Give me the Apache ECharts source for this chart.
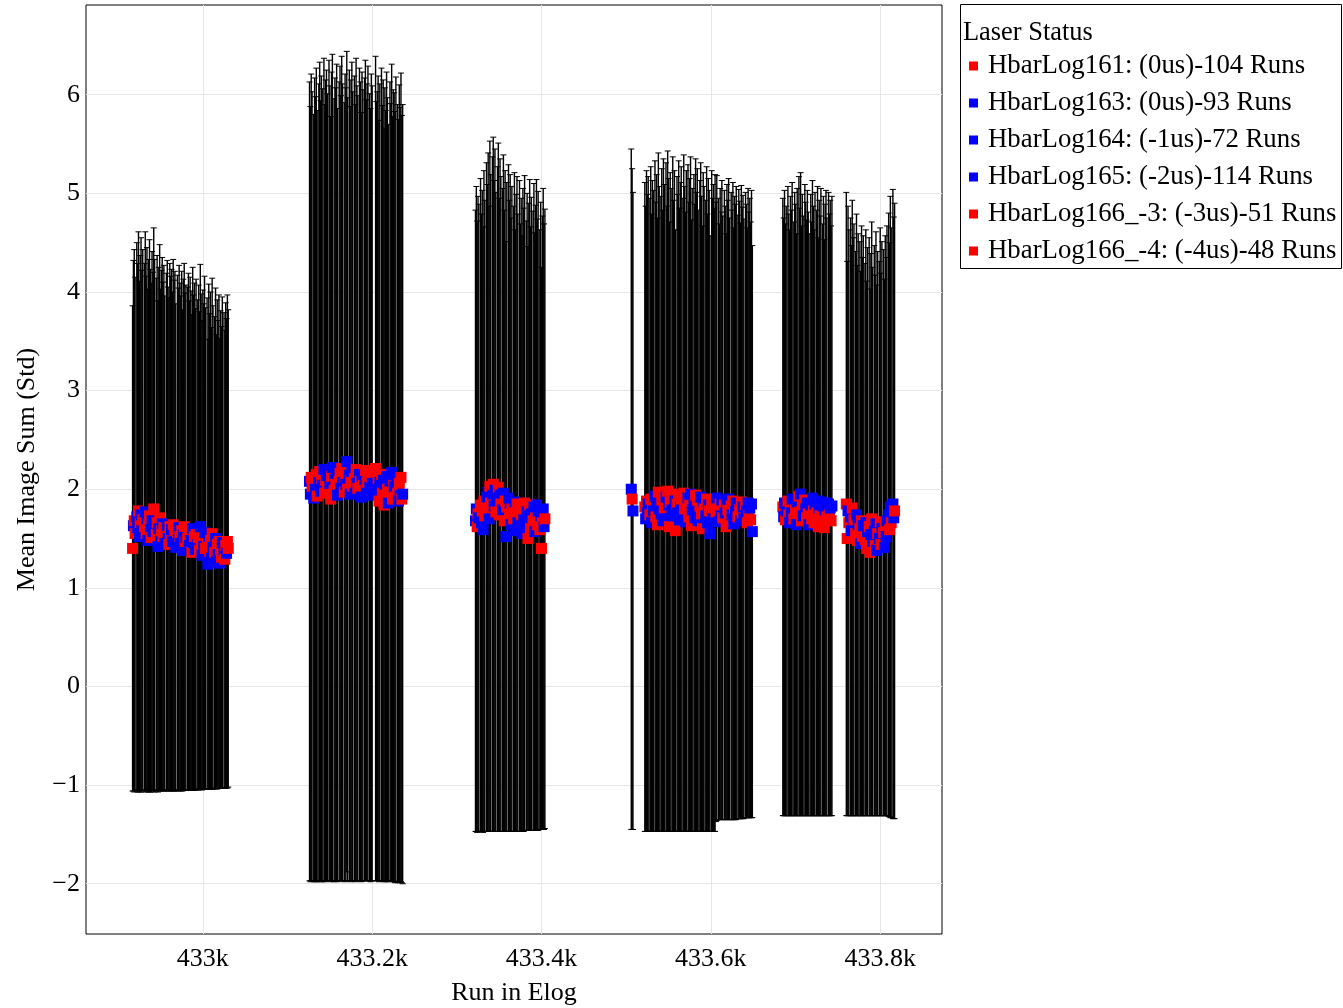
<!DOCTYPE html>
<html>
<head>
<meta charset="utf-8">
<script src="https://cdn.jsdelivr.net/npm/echarts@6/dist/echarts.min.js"></script>
<style>
  html, body { margin: 0; padding: 0; background: #fff; }
  #chart { width: 1343px; height: 1008px; }
</style>
</head>
<body>
<div id="chart"></div>
<script>
// Axis ticks
const xTicks = [433000, 433200, 433400, 433600, 433800];
const yTicks = [-2, -1, 0, 1, 2, 3, 4, 5, 6];

// Legend entries, one per logbook
const seriesNames = [
  'HbarLog161: (0us)-104 Runs',
  'HbarLog163: (0us)-93 Runs',
  'HbarLog164: (-1us)-72 Runs',
  'HbarLog165: (-2us)-114 Runs',
  'HbarLog166_-3: (-3us)-51 Runs',
  'HbarLog166_-4: (-4us)-48 Runs'
];

// HbarLog161
const runs161 = [
  432917,432918,432919,432920,
  432922,432923,432924,432925,432926,432927,432928,432929,
  432931,432932,432933,432934,432935,432936,432937,432938,432939,432940,432941,432942,432943,
  432945,432946,432947,432948,432949,432950,432951,432952,432953,432954,432955,
  432957,432958,432959,432960,432961,432962,432963,432964,432965,432966,432967,432968,
  432970,432971,432972,432973,432974,432975,432976,432977,432978,432979,432980,
  432982,432983,432984,432985,432986,432987,432988,432989,432990,432991,432992,
  432994,432995,432996,432997,432998,432999,433000,433001,433002,433003,
  433005,433006,433007,433008,433009,433010,433011,433012,
  433014,433015,433016,433017,433018,433019,433020,433021,433022,433023,
  433025,433026,433027,433028,433029,433030
];
const mean161 = [
  1.40,1.63,1.68,1.55,
  1.72,1.61,1.78,1.52,1.66,1.74,1.58,1.69,
  1.62,1.77,1.55,1.70,1.48,1.64,1.73,1.59,1.51,1.68,1.57,1.80,1.63,
  1.54,1.66,1.42,1.60,1.71,1.49,1.58,1.65,1.52,1.61,1.45,
  1.57,1.63,1.50,1.44,1.62,1.55,1.59,1.47,1.64,1.53,1.58,1.41,
  1.56,1.49,1.61,1.52,1.45,1.58,1.38,1.54,1.62,1.47,1.51,
  1.50,1.57,1.43,1.55,1.48,1.36,1.60,1.46,1.52,1.39,1.54,
  1.44,1.51,1.38,1.62,1.47,1.33,1.49,1.42,1.56,1.40,
  1.45,1.24,1.52,1.37,1.48,1.30,1.55,1.41,
  1.36,1.50,1.27,1.44,1.34,1.47,1.25,1.39,1.31,1.46,
  1.38,1.29,1.43,1.35,1.47,1.40
];
const std161 = [
  2.46,2.69,2.75,2.60,
  2.78,2.68,2.83,2.59,2.71,2.81,2.64,2.74,
  2.67,2.84,2.61,2.75,2.55,2.69,2.80,2.64,2.58,2.73,2.63,2.85,2.70,
  2.60,2.71,2.49,2.65,2.77,2.54,2.64,2.70,2.58,2.66,2.51,
  2.62,2.69,2.55,2.50,2.67,2.61,2.64,2.53,2.69,2.59,2.63,2.47,
  2.61,2.55,2.66,2.57,2.51,2.63,2.44,2.59,2.67,2.52,2.56,
  2.55,2.62,2.48,2.60,2.53,2.41,2.65,2.51,2.57,2.44,2.59,
  2.48,2.56,2.42,2.66,2.51,2.38,2.53,2.46,2.60,2.44,
  2.49,2.28,2.56,2.41,2.52,2.34,2.59,2.45,
  2.39,2.54,2.30,2.48,2.37,2.50,2.28,2.42,2.34,2.49,
  2.41,2.32,2.46,2.38,2.50,2.42
];
const laser161 = 'rbrrbbrbrb' + 'brrbrbbrrb' + 'rbbrbrrbbr' + 'brbrrbrbbr' + 'rrbbrbrbrb' +
                 'brbrbbrrbr' + 'rbrbrbbrbr' + 'brrbrbrbbr' + 'rbbrrbrbrb' + 'brbrbrrbbr' + 'rbrr';

// HbarLog163
const runs163 = [
  433126,433127,433128,433129,
  433131,433132,433133,433134,433135,
  433137,433138,433139,433140,433141,
  433143,433144,433145,433146,433147,
  433149,433150,433151,433152,433153,
  433155,433156,433157,433158,433159,
  433161,433162,433163,433164,433165,
  433167,433168,433169,433170,433171,
  433173,433174,433175,433176,433177,
  433179,433180,433181,433182,433183,
  433185,433186,433187,433188,433189,
  433191,433192,433193,433194,433195,
  433197,433198,433199,433200,
  433204,433205,433206,433207,433208,433209,
  433211,433212,433213,433214,433215,433216,433217,433218,433219,
  433221,433222,433223,433224,433225,433226,433227,433228,
  433230,433231,433232,433233,433234,433235,433236
];
const mean163 = [
  2.08,1.95,2.12,2.03,1.91,2.10,
  2.00,2.15,1.93,2.07,2.18,1.98,
  2.11,2.04,2.20,1.96,2.09,2.14,
  2.02,2.19,2.06,1.90,2.13,2.22,
  1.99,2.10,2.05,2.17,1.94,2.08,
  2.16,2.01,2.21,2.07,1.97,2.12,
  2.05,2.28,2.00,2.14,1.95,2.09,
  2.18,2.03,2.11,1.96,2.20,2.06,
  2.01,2.15,2.08,1.92,2.13,2.04,
  2.10,2.19,1.99,2.07,2.16,2.02,1.94,2.12,2.06,2.21,1.98,
  2.03,2.11,1.88,2.07,2.15,1.96,2.09,1.84,
  2.05,1.93,2.13,2.00,1.86,2.08,1.97,2.17,1.90,2.04,
  2.02,1.92,2.10,1.96,1.88,2.06,1.94,2.12,1.90,1.95
];
const std163 = [
  4.05,3.93,4.09,4.00,3.89,4.07,
  3.98,4.12,3.91,4.04,4.15,3.96,
  4.08,4.02,4.17,3.94,4.06,4.11,
  3.99,4.16,4.03,3.88,4.10,4.19,
  3.97,4.07,4.02,4.14,3.92,4.05,
  4.13,3.98,4.18,4.04,3.95,4.09,
  4.02,4.16,3.97,4.11,3.93,4.06,
  4.15,4.00,4.08,3.94,4.17,4.03,
  3.98,4.12,4.05,3.90,4.10,4.01,
  4.07,4.16,3.96,4.04,4.13,3.99,3.92,4.09,4.03,4.18,3.95,
  4.00,4.08,3.86,4.04,4.12,3.93,4.06,3.82,
  4.02,3.91,4.10,3.97,3.84,4.05,3.94,4.14,3.88,4.01,
  4.00,3.91,4.08,3.94,3.87,4.04,3.93,4.10,3.89,3.95
];
const laser163 = 'bbrrbrbrrb' + 'rbrbbrrbrb' + 'brrbrbrbbr' + 'rbrbrrbbrb' + 'brbrrbrbrb' +
                 'rbbrbrbrrb' + 'brbrbbrrbr' + 'rbrbrbrbbr' + 'brrbrbrbrb' + 'rrb';

// HbarLog164
const runs164 = [
  433322,433323,433324,433325,433326,
  433328,433329,433330,433331,433332,433333,
  433335,433336,433337,433338,433339,433340,
  433342,433343,433344,433345,433346,
  433348,433349,433350,433351,433352,
  433354,433355,433356,433357,433358,433359,
  433361,433362,433363,433364,433365,
  433367,433368,433369,433370,433371,433372,
  433374,433375,433376,433377,433378,433379,433380,
  433382,433383,433384,433385,433386,433387,433388,
  433390,433391,433392,433393,433394,433395,433396,
  433398,433399,433400,433401,433402,433403,433404
];
const mean164 = [
  1.68,1.80,1.62,1.75,1.71,
  1.84,1.66,1.78,1.59,1.88,1.73,
  1.92,1.81,1.97,1.70,2.03,1.86,
  1.95,2.05,1.83,1.99,1.77,
  1.90,2.02,1.74,1.94,1.85,
  1.79,1.96,1.68,1.88,1.52,1.82,
  1.91,1.73,1.86,1.64,1.80,
  1.70,1.87,1.58,1.76,1.85,1.66,
  1.83,1.61,1.74,1.55,1.79,1.69,1.86,
  1.63,1.77,1.50,1.72,1.84,1.60,1.75,
  1.68,1.82,1.57,1.71,1.84,1.64,1.78,
  1.59,1.73,1.40,1.66,1.80,1.62,1.70
];
const std164 = [
  3.15,3.27,3.10,3.22,3.18,
  3.31,3.13,3.25,3.07,3.35,3.20,
  3.39,3.28,3.44,3.17,3.50,3.33,
  3.42,3.52,3.30,3.46,3.24,
  3.37,3.49,3.21,3.41,3.32,
  3.26,3.43,3.15,3.35,2.99,3.29,
  3.38,3.20,3.33,3.11,3.27,
  3.17,3.34,3.05,3.23,3.32,3.13,
  3.30,3.08,3.21,3.02,3.26,3.16,3.32,
  3.09,3.23,2.96,3.18,3.30,3.06,3.21,
  3.14,3.28,3.03,3.17,3.30,3.10,3.24,
  3.04,3.18,2.85,3.11,3.25,3.07,3.14
];
const laser164 = 'bbrrbrbrbr' + 'rbrbbrrbrb' + 'brbrrbrbbr' + 'rbrbrbbrrb' + 'brrbrbrbrb' +
                 'rbbrbrrbrb' + 'brbrbrbrrb' + 'br';

// HbarLog165
const runs165 = [
  433506,433507,433508,
  433522,433523,433524,433525,433526,
  433528,433529,433530,433531,433532,
  433534,433535,433536,433537,433538,433539,
  433541,433542,433543,433544,433545,
  433547,433548,433549,433550,433551,433552,
  433554,433555,433556,433557,433558,
  433560,433561,433562,433563,433564,433565,
  433567,433568,433569,433570,433571,
  433573,433574,433575,433576,433577,433578,
  433580,433581,433582,433583,433584,433585,
  433587,433588,433589,433590,433591,433592,
  433594,433595,433596,433597,433598,433599,
  433601,433602,433603,433604,433605,433606,433607,
  433609,433610,433611,433612,433613,433614,
  433616,433617,433618,433619,433620,433621,433622,
  433624,433625,433626,433627,433628,433629,433630,
  433632,433633,433634,433635,433636,433637,433638,433639,
  433641,433642,433643,433644,433645,433646,433647,433648,433649
];
const mean165 = [
  2.00,1.90,1.78,
  1.82,1.70,1.88,1.76,1.85,
  1.74,1.90,1.66,1.83,1.78,
  1.93,1.72,1.86,1.64,1.97,1.80,
  1.75,1.89,1.68,1.94,1.81,
  1.92,1.70,1.98,1.84,1.62,1.87,
  1.79,1.95,1.73,1.88,1.58,
  1.85,1.76,1.93,1.69,1.82,1.90,
  1.74,1.96,1.80,1.67,1.88,
  1.91,1.72,1.84,1.95,1.63,1.79,
  1.86,1.71,1.94,1.77,1.89,1.68,
  1.83,1.92,1.75,1.60,1.87,1.80,
  1.73,1.90,1.66,1.84,1.78,1.55,
  1.88,1.74,1.81,1.69,1.86,1.77,1.91,
  1.80,1.67,1.85,1.73,1.89,1.71,
  1.84,1.76,1.62,1.87,1.79,1.90,1.70,
  1.83,1.74,1.88,1.65,1.81,1.77,1.86,
  1.72,1.85,1.79,1.68,1.87,1.76,1.82,1.70,
  1.84,1.78,1.66,1.86,1.74,1.81,1.69,1.85,1.57
];
const std165 = [
  3.45,3.35,3.23,
  3.29,3.17,3.35,3.23,3.32,
  3.21,3.37,3.13,3.30,3.25,
  3.40,3.19,3.33,3.11,3.44,3.27,
  3.22,3.36,3.15,3.41,3.28,
  3.39,3.17,3.45,3.31,3.09,3.34,
  3.26,3.42,3.20,3.35,3.05,
  3.32,3.23,3.40,3.16,3.29,3.37,
  3.21,3.43,3.27,3.14,3.35,
  3.38,3.19,3.31,3.42,3.10,3.26,
  3.33,3.18,3.41,3.24,3.36,3.15,
  3.30,3.39,3.22,3.07,3.34,3.27,
  3.20,3.37,3.13,3.31,3.25,3.02,
  3.35,3.21,3.28,3.16,3.33,3.14,3.27,
  3.15,3.02,3.20,3.08,3.24,3.06,
  3.19,3.11,2.97,3.22,3.14,3.25,3.05,
  3.18,3.09,3.23,3.00,3.16,3.12,3.21,
  3.06,3.19,3.13,3.02,3.21,3.10,3.16,3.04,
  3.17,3.11,2.99,3.19,3.07,3.14,3.02,3.18,2.90
];
const laser165 = 'brb' + 'rbrbbrrbrb' + 'brbrrbbrbr' + 'rbbrbrrbrb' + 'brrbrbbrbr' + 'rbrbrrbrbb' +
                 'brbrbrbrrb' + 'rbrbbrbrbr' + 'brrbrbrbbr' + 'rbrbrbrrbr' + 'brbbrbrbrr' + 'bbrbrbrbrb' + 'b';

// HbarLog166_-3
const runs1663 = [
  433685,433686,433687,433688,433689,
  433691,433692,433693,433694,433695,433696,
  433698,433699,433700,433701,433702,
  433704,433705,433706,433707,433708,433709,
  433711,433712,433713,433714,433715,433716,
  433718,433719,433720,433721,433722,433723,
  433725,433726,433727,433728,433729,433730,
  433732,433733,433734,433735,433736,433737,
  433739,433740,433741,433742,433743
];
const mean1663 = [
  1.82,1.72,1.86,1.69,1.78,
  1.88,1.74,1.66,1.83,1.76,1.90,
  1.70,1.85,1.79,1.64,1.87,
  1.93,1.77,1.95,1.68,1.84,1.73,
  1.89,1.80,1.71,1.86,1.75,1.64,
  1.84,1.70,1.91,1.78,1.66,1.85,
  1.76,1.88,1.62,1.81,1.73,1.87,
  1.69,1.83,1.61,1.79,1.86,1.72,
  1.85,1.74,1.81,1.68,1.83
];
const std1663 = [
  3.13,3.03,3.17,3.00,3.09,
  3.19,3.05,2.97,3.14,3.07,3.21,
  3.01,3.16,3.10,2.95,3.18,
  3.24,3.08,3.26,2.99,3.15,3.04,
  3.20,3.11,3.02,3.17,3.06,2.95,
  3.15,3.01,3.22,3.09,2.97,3.16,
  3.07,3.19,2.93,3.12,3.04,3.18,
  3.00,3.14,2.92,3.10,3.17,3.03,
  3.16,3.05,3.12,2.99,3.14
];
const laser1663 = 'rbbrbrrbrb' + 'brbrbbrrbr' + 'rbrbrbrbbr' + 'brrbrbrbrb' + 'rbrbbrbrbr' + 'b';

// HbarLog166_-4
const runs1664 = [
  433760,433761,433762,433763,
  433765,433766,433767,433768,433769,
  433771,433772,433773,433774,
  433776,433777,433778,433779,433780,
  433782,433783,433784,433785,
  433787,433788,433789,433790,433791,
  433793,433794,433795,433796,433797,
  433799,433800,433801,433802,
  433804,433805,433806,433807,433808,
  433810,433811,433812,433813,
  433815,433816,433817
];
const mean1664 = [
  1.85,1.50,1.78,1.66,
  1.72,1.58,1.81,1.62,1.69,
  1.55,1.74,1.48,1.64,
  1.60,1.45,1.68,1.52,1.63,
  1.49,1.66,1.40,1.57,
  1.62,1.36,1.54,1.70,1.47,
  1.58,1.43,1.65,1.38,1.55,
  1.50,1.67,1.44,1.60,
  1.56,1.41,1.63,1.52,1.68,
  1.74,1.59,1.82,1.66,
  1.85,1.71,1.78
];
const std1664 = [
  3.16,2.81,3.09,2.97,
  3.03,2.89,3.12,2.93,3.00,
  2.86,3.05,2.79,2.95,
  2.91,2.76,2.99,2.83,2.94,
  2.80,2.97,2.71,2.88,
  2.93,2.67,2.85,3.01,2.78,
  2.89,2.74,2.96,2.69,2.86,
  2.81,2.98,2.75,2.91,
  2.87,2.72,2.94,2.83,2.99,
  3.06,2.91,3.15,2.99,
  3.19,3.05,3.12
];
const laser1664 = 'rrbrbbrbrr' + 'brbrbrrbrb' + 'rbrrbrbbrb' + 'brbrrbrbrb' + 'bbrbrbbr';

const RED = '#ff0000';
const BLUE = '#0000ff';
const FONT = "'Liberation Serif', 'Times New Roman', serif";

const logs = [
  { runs: runs161,  mean: mean161,  std: std161,  laser: laser161 },
  { runs: runs163,  mean: mean163,  std: std163,  laser: laser163 },
  { runs: runs164,  mean: mean164,  std: std164,  laser: laser164 },
  { runs: runs165,  mean: mean165,  std: std165,  laser: laser165 },
  { runs: runs1663, mean: mean1663, std: std1663, laser: laser1663 },
  { runs: runs1664, mean: mean1664, std: std1664, laser: laser1664 }
];

const colorOf = c => (c === 'r' ? RED : BLUE);

// Vertical bar from mean-std to mean+std with short caps at both ends
function renderErrorBar(params, api) {
  const x = api.value(0), m = api.value(1), s = api.value(2);
  const hi = api.coord([x, m + s]);
  const lo = api.coord([x, m - s]);
  const hw = 3;
  const style = { stroke: '#000', lineWidth: 1.4, fill: null };
  const cap = { stroke: '#000', lineWidth: 1, fill: null };
  return {
    type: 'group',
    children: [
      { type: 'line', shape: { x1: hi[0], y1: hi[1], x2: lo[0], y2: lo[1] }, style },
      { type: 'line', shape: { x1: hi[0] - hw, y1: hi[1], x2: hi[0] + hw, y2: hi[1] }, style: cap },
      { type: 'line', shape: { x1: lo[0] - hw, y1: lo[1], x2: lo[0] + hw, y2: lo[1] }, style: cap }
    ]
  };
}

const series = [];
logs.forEach((g, k) => {
  series.push({
    type: 'custom',
    name: seriesNames[k] + ' (std)',
    renderItem: renderErrorBar,
    data: g.runs.map((r, i) => [r, g.mean[i], g.std[i]]),
    encode: { x: 0, y: 1 },
    silent: true,
    clip: true,
    z: 2
  });
});
logs.forEach((g, k) => {
  series.push({
    type: 'scatter',
    name: seriesNames[k],
    symbol: 'rect',
    symbolSize: 11,
    itemStyle: { color: colorOf(g.laser[0]), opacity: 1 },
    data: g.runs.map((r, i) => ({
      value: [r, g.mean[i]],
      itemStyle: { color: colorOf(g.laser[i] || g.laser[0]) }
    })),
    z: 3
  });
});

const chart = echarts.init(document.getElementById('chart'));
chart.setOption({
  animation: false,
  backgroundColor: '#fff',
  textStyle: { fontFamily: FONT },
  grid: {
    left: 86, right: 401, top: 5, bottom: 74,
    outerBoundsMode: 'none',
    show: true, borderColor: '#000', borderWidth: 1, backgroundColor: '#fff'
  },
  xAxis: {
    type: 'value',
    min: 432862, max: 433873,
    name: 'Run in Elog',
    nameLocation: 'middle',
    nameGap: 46,
    nameTextStyle: { fontFamily: FONT, fontSize: 26, color: '#000' },
    axisLine: { show: false },
    axisTick: { show: false, customValues: xTicks },
    axisLabel: {
      customValues: xTicks,
      formatter: v => (v / 1000) + 'k',
      fontFamily: FONT, fontSize: 26, color: '#000', margin: 12
    },
    splitLine: { show: true, lineStyle: { color: '#e6e6e6', width: 1 } }
  },
  yAxis: {
    type: 'value',
    min: -2.51, max: 6.91,
    name: 'Mean Image Sum (Std)',
    nameLocation: 'middle',
    nameGap: 46,
    nameTextStyle: { fontFamily: FONT, fontSize: 26, color: '#000' },
    axisLine: { show: false },
    axisTick: { show: false, customValues: yTicks },
    axisLabel: {
      customValues: yTicks,
      formatter: v => String(v).replace('-', '\u2212'),
      fontFamily: FONT, fontSize: 26, color: '#000', margin: 6
    },
    splitLine: { show: true, lineStyle: { color: '#e6e6e6', width: 1 } }
  },
  legend: {
    data: seriesNames,
    orient: 'vertical',
    left: 969, top: 51,
    padding: 0,
    itemWidth: 9, itemHeight: 9,
    itemGap: 7,
    icon: 'rect',
    selectedMode: false,
    textStyle: { fontFamily: FONT, fontSize: 26.8, color: '#000', lineHeight: 30, padding: [0, 0, 0, 5] }
  },
  graphic: [
    {
      type: 'rect',
      shape: { x: 960.5, y: 4.5, width: 381, height: 264 },
      style: { fill: '#fff', stroke: '#000', lineWidth: 1 },
      z: -1
    },
    {
      type: 'text',
      left: 963, top: 20,
      style: { text: 'Laser Status', font: "26.4px 'Liberation Serif', 'Times New Roman', serif", fill: '#000' }
    }
  ],
  series
});
</script>
</body>
</html>
